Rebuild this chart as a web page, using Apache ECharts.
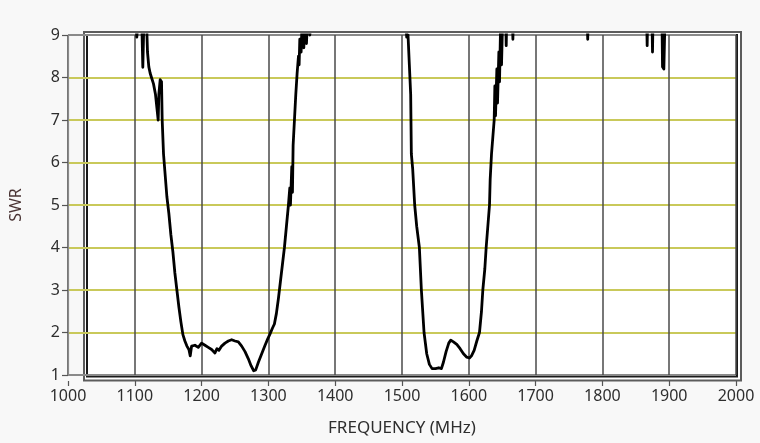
<!DOCTYPE html>
<html>
<head>
<meta charset="utf-8">
<script src="https://cdn.jsdelivr.net/npm/echarts@6/dist/echarts.min.js"></script>
<style>
html,body{margin:0;padding:0;background:#f8f8f8;}
#chart{width:760px;height:443px;}
</style>
</head>
<body>
<div id="chart"></div>
<script>
// Frequency (MHz) and SWR samples; values above 9 run off the top of the plot.
var freq = [1030,1100,1103,1106,1110,1112,1113,1114,1117,1119,1121,1123,1125,1128,1131,1133,1135,1136,1138,1140,1141,1143,1145,1148,1151,1154,1157,1160,1163,1166,1169,1172,1175,1178,1181,1183,1185,1190,1195,1200,1205,1210,1215,1220,1223,1226,1230,1235,1240,1245,1250,1255,1260,1265,1270,1274,1278,1281,1285,1290,1295,1299,1302,1306,1309,1312,1315,1318,1321,1324,1327,1330,1332,1333,1335,1336,1337,1339,1341,1343,1345,1346,1347,1349,1351,1353,1355,1357,1359,1362,1365,
  1490,1505,1507,1509,1511,1513,1514,1516,1519,1522,1526,1529,1533,1537,1541,1545,1550,1555,1559,1562,1566,1570,1573,1577,1582,1587,1592,1597,1601,1604,1608,1612,1616,1619,1621,1624,1626,1629,1631,1632,1634,1636,1638,1639,1640,1642,1643,1645,1646,1648,1649,1651,
  1655,1656,1657,1665,1666,1667,1777,1778,1779,1866,1867,1868,1874,1875,1876,1889,1890,1892,1894,2005];
var swr = [9.6,9.6,8.95,9.6,9.6,8.24,8.24,9.6,9.6,8.6,8.25,8.1,8.0,7.85,7.6,7.3,7.0,7.6,7.95,7.9,7.0,6.2,5.8,5.2,4.8,4.3,3.9,3.4,3.0,2.6,2.25,1.95,1.8,1.68,1.6,1.45,1.68,1.7,1.65,1.75,1.7,1.65,1.6,1.52,1.62,1.58,1.68,1.75,1.8,1.83,1.8,1.78,1.68,1.55,1.38,1.22,1.1,1.12,1.3,1.5,1.7,1.85,1.95,2.1,2.2,2.45,2.8,3.2,3.6,4.0,4.5,5.0,5.4,5.0,5.9,5.3,6.4,7.0,7.6,8.1,8.5,8.3,8.9,8.6,9.6,8.7,9.6,8.8,9.6,9.0,9.6,
  9.6,9.6,8.95,9.0,8.3,7.6,6.2,5.85,5.0,4.5,4.0,3.0,2.0,1.5,1.25,1.15,1.15,1.17,1.15,1.3,1.55,1.75,1.82,1.78,1.72,1.62,1.5,1.42,1.4,1.45,1.58,1.8,2.0,2.5,3.0,3.5,4.0,4.6,5.0,5.6,6.2,6.6,7.0,7.8,7.1,8.2,7.4,8.6,7.9,9.6,8.3,9.6,
  9.6,8.75,9.6,9.6,8.9,9.6,9.6,8.9,9.6,9.6,8.75,9.6,9.6,8.6,9.6,9.6,8.25,8.2,9.6,9.6];
var xTicks = {min:1000, max:2000, step:100};
var yTicks = {min:1, max:9, step:1};

var data = freq.map(function(f,i){return [f, swr[i]];});
var font = 'Noto Sans';
var txt = '#2e2e2e';

var chart = echarts.init(document.getElementById('chart'), null, {renderer:'canvas'});
chart.setOption({
  backgroundColor:'#f8f8f8',
  animation:false,
  grid:[
    {left:65, right:24, top:35, bottom:68, show:false, containLabel:false},
    {left:84, right:19, top:32, bottom:62.5, show:true, backgroundColor:'#ffffff', borderColor:'#5c5c5c', borderWidth:2},
    {left:87, right:23, top:35, bottom:66.5, show:true, backgroundColor:'transparent', borderColor:'#1a1a1a', borderWidth:2}
  ],
  xAxis:[
    {gridIndex:0, type:'value', min:xTicks.min, max:xTicks.max, interval:xTicks.step, offset:6,
     name:'FREQUENCY (MHz)', nameLocation:'middle', nameGap:39,
     nameTextStyle:{fontFamily:font, fontSize:17, color:txt},
     axisLine:{show:false},
     axisTick:{show:true, length:5, lineStyle:{color:'#555', width:1.2}},
     axisLabel:{fontFamily:font, fontSize:16, color:txt, margin:7, formatter:function(v){return String(v);}},
     splitLine:{show:true, lineStyle:{color:'#4a4a4a', width:1.5}}},
    {gridIndex:1, type:'value', show:false},
    {gridIndex:2, type:'value', show:false}
  ],
  yAxis:[
    {gridIndex:0, type:'value', min:yTicks.min, max:yTicks.max, interval:yTicks.step,
     name:'SWR', nameLocation:'middle', nameGap:44, nameRotate:90,
     nameTextStyle:{fontFamily:font, fontSize:16, color:'#4a3434'},
     axisLine:{show:true, lineStyle:{color:'#8a8a8a', width:1.2}},
     axisTick:{show:true, length:6, lineStyle:{color:'#555', width:1.2}},
     axisLabel:{fontFamily:font, fontSize:16, color:txt, margin:8},
     splitLine:{show:true, lineStyle:{color:['#8a8a8a','#c9c95a','#c9c95a','#c9c95a','#c9c95a','#c9c95a','#c9c95a','#c9c95a','#8a8a8a'], width:2}}},
    {gridIndex:1, type:'value', show:false},
    {gridIndex:2, type:'value', show:false}
  ],
  series:[
    {type:'line', xAxisIndex:0, yAxisIndex:0, data:data, showSymbol:false, symbol:'none', clip:true, z:5,
     lineStyle:{color:'#000000', width:2.8, join:'round'}}
  ]
});
</script>
</body>
</html>
